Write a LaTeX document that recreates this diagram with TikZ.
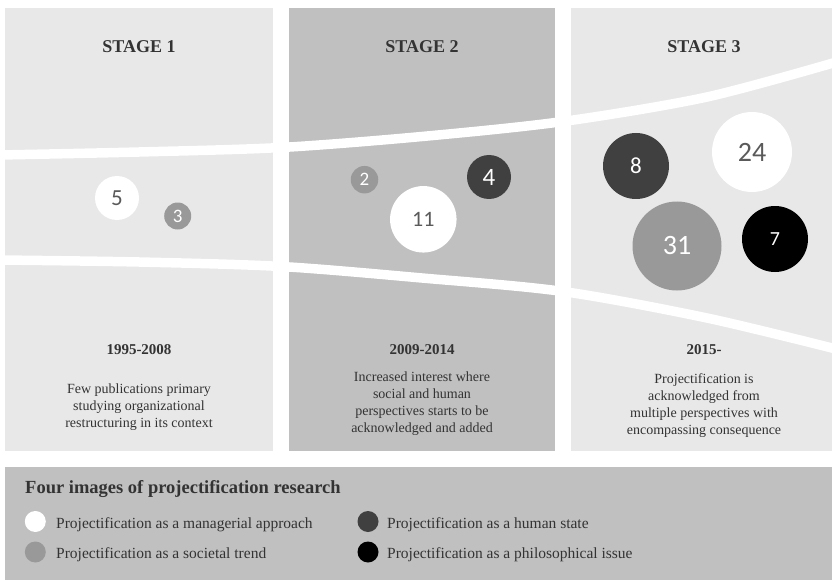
\documentclass[tikz,border=0pt]{standalone}
\usepackage{fontspec}
\setmainfont{Liberation Serif}
\newfontfamily\numfont{Carlito}
\definecolor{panellight}{HTML}{E8E8E8}
\definecolor{paneldark}{HTML}{C0C0C0}
\definecolor{bubgray}{HTML}{999999}
\definecolor{bubdark}{HTML}{404040}
\definecolor{txtdark}{HTML}{333333}
\definecolor{numgray}{HTML}{5A5A5A}
\begin{document}
\begin{tikzpicture}[x=1pt,y=-1pt,
  heading/.style={font=\bfseries\fontsize{18}{20}\selectfont, text=txtdark, anchor=base, inner sep=0pt},
  year/.style={font=\bfseries\fontsize{15}{17}\selectfont, text=txtdark, anchor=base, inner sep=0pt},
  body/.style={font=\fontsize{14}{17}\selectfont, text=txtdark, align=center, inner sep=0pt},
  bubble/.style={circle, fill=#1, inner sep=0pt},
  band/.style={white, line width=9.5pt},
  legtitle/.style={font=\bfseries\fontsize{18.5}{20}\selectfont, text=txtdark, anchor=base west, inner sep=0pt},
  legitem/.style={font=\fontsize{15.5}{17}\selectfont, text=txtdark, anchor=base west, inner sep=0pt},
  legdot/.style={circle, fill=#1, inner sep=0pt, minimum size=21pt}
]
\path[use as bounding box] (0,0) rectangle (832,580);
% panels
\fill[panellight] (5,8) rectangle (273,451);
\fill[paneldark] (289,8) rectangle (555,451);
\fill[panellight] (571,8) rectangle (832,451);
\fill[paneldark] (5,467) rectangle (832,580);
% white bands
\draw[band] plot[smooth] coordinates {(0,155) (139,152) (281,147.5) (422,136.5) (563,121.5) (707,97) (840,61)};
\draw[band] plot[smooth] coordinates {(0,260) (139,262) (281,266.5) (422,278) (563,291.5) (707,318) (840,350)};
% headings
\node[heading] (h1) at (139,52.5) {STAGE 1};
\node[heading] (h2) at (422,52.5) {STAGE 2};
\node[heading] (h3) at (704,52.5) {STAGE 3};
% bubbles stage 1
\node[bubble=white, minimum size=44pt, text=numgray, font=\numfont\fontsize{23}{23}\selectfont] (b5) at (117,198) {5};
\node[bubble=bubgray, minimum size=27pt, text=white, font=\numfont\fontsize{19}{19}\selectfont] (b3) at (177.7,216) {3};
% bubbles stage 2
\node[bubble=bubgray, minimum size=27.5pt, text=white, font=\numfont\fontsize{19}{19}\selectfont] (b2) at (364.5,179.7) {2};
\node[bubble=bubdark, minimum size=44pt, text=white, font=\numfont\fontsize{25}{25}\selectfont] (b4) at (489,177) {4};
\node[bubble=white, minimum size=66.5pt, text=numgray, font=\numfont\fontsize{22}{22}\selectfont] (b11) at (423.3,219.3) {11};
% bubbles stage 3
\node[bubble=bubdark, minimum size=66pt, text=white, font=\numfont\fontsize{23}{23}\selectfont] (b8) at (636,166) {8};
\node[bubble=white, minimum size=80pt, text=numgray, font=\numfont\fontsize{28}{28}\selectfont] (b24) at (752,152) {24};
\node[bubble=bubgray, minimum size=89pt, text=white, font=\numfont\fontsize{28}{28}\selectfont] (b31) at (677,246) {31};
\node[bubble=black, minimum size=66pt, text=white, font=\numfont\fontsize{20}{20}\selectfont] (b7) at (775,239) {7};
% years
\node[year] (y1) at (139,354.3) {1995-2008};
\node[year] (y2) at (422,354.3) {2009-2014};
\node[year] (y3) at (704,354.3) {2015-};
% descriptions
\node[body] (d1) at (139,407) {Few publications primary\\studying organizational\\restructuring in its context};
\node[body] (d2) at (422,404) {Increased interest where\\social and human\\perspectives starts to be\\acknowledged and added};
\node[body] (d3) at (704,405.5) {Projectification is\\acknowledged from\\multiple perspectives with\\encompassing consequence};
% legend
\node[legtitle] (lt) at (25,493.3) {Four images of projectification research};
\node[legdot=white] (l1) at (35.3,521.5) {};
\node[legitem] (t1) at (56,528) {Projectification as a managerial approach};
\node[legdot=bubgray] (l2) at (35.3,552) {};
\node[legitem] (t2) at (56,558) {Projectification as a societal trend};
\node[legdot=bubdark] (l3) at (368,521.5) {};
\node[legitem] (t3) at (387,528) {Projectification as a human state};
\node[legdot=black] (l4) at (368,552) {};
\node[legitem] (t4) at (387,558) {Projectification as a philosophical issue};
\end{tikzpicture}
\end{document}
